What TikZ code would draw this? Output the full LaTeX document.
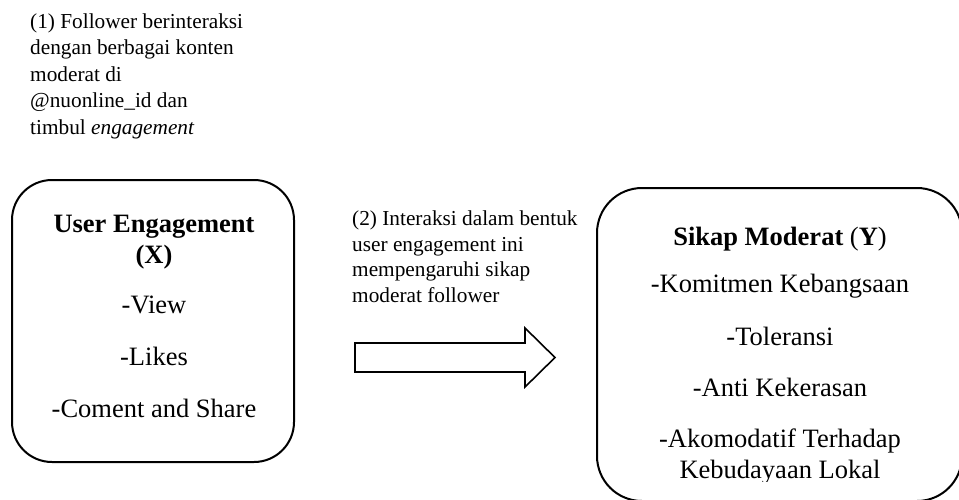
\documentclass[tikz,border=0pt]{standalone}
\usepackage{fontspec}
\setmainfont{Liberation Serif}
\begin{document}
\begin{tikzpicture}[x=1pt,y=1pt,
  tsmall/.style={font=\fontsize{21.3}{26}\selectfont, anchor=base west, inner sep=0pt},
  tbig/.style={font=\fontsize{26.5}{31}\selectfont, anchor=base, inner sep=0pt},
  tbold/.style={tbig, font=\fontsize{26.5}{31}\selectfont\bfseries},
  roundbox/.style={draw=black, line width=2pt, rounded corners=40pt, inner sep=0pt}]
\useasboundingbox (0,0) rectangle (959,-499);
\clip (0,0) rectangle (959,-499);
\fill[white] (0,0) rectangle (959,-499);

% text (1)
\node[tsmall] (n1a) at (30,-28) {(1) Follower berinteraksi};
\node[tsmall] (n1b) at (30,-54.5) {dengan berbagai konten};
\node[tsmall] (n1c) at (30,-81) {moderat di};
\node[tsmall] (n1d) at (30,-107.5) {@nuonline\_id dan};
\node[tsmall] (n1e) at (30,-134) {timbul \textit{engagement}};

% left box
\node[roundbox, minimum width=282pt, minimum height=282pt] (ue) at (153,-321) {};
\node[tbold] (ue1) at (154,-232) {User Engagement};
\node[tbold] (ue2) at (154,-263) {(X)};
\node[tbig] (ue3) at (154,-313) {-View};
\node[tbig] (ue4) at (154,-365) {-Likes};
\node[tbig] (ue5) at (154,-417) {-Coment and Share};

% text (2)
\node[tsmall] (n2a) at (352,-225.5) {(2) Interaksi dalam bentuk};
\node[tsmall] (n2b) at (352,-251.2) {user engagement ini};
\node[tsmall] (n2c) at (352,-276.9) {mempengaruhi sikap};
\node[tsmall] (n2d) at (352,-302.6) {moderat follower};

% block arrow
\draw[line width=1.6pt, line join=miter, fill=white]
  (355,-343) -- (525,-343) -- (525,-328) -- (555,-357.5) -- (525,-387)
  -- (525,-372) -- (355,-372) -- cycle;

% right box
\node[roundbox, rounded corners=45pt, minimum width=365pt, minimum height=313pt] (sm) at (779.5,-344.5) {};
\node[tbig] (sm1) at (780,-245) {\textbf{Sikap Moderat} (\textbf{Y})};
\node[tbig] (sm2) at (780,-292.3) {-Komitmen Kebangsaan};
\node[tbig] (sm3) at (780,-345) {-Toleransi};
\node[tbig] (sm4) at (780,-396.7) {-Anti Kekerasan};
\node[tbig] (sm5) at (780,-447) {-Akomodatif Terhadap};
\begin{scope}
\clip (600,-400) rectangle (950,-481);
\node[tbig] (sm6) at (780,-478) {Kebudayaan Lokal};
\end{scope}
\end{tikzpicture}
\end{document}
